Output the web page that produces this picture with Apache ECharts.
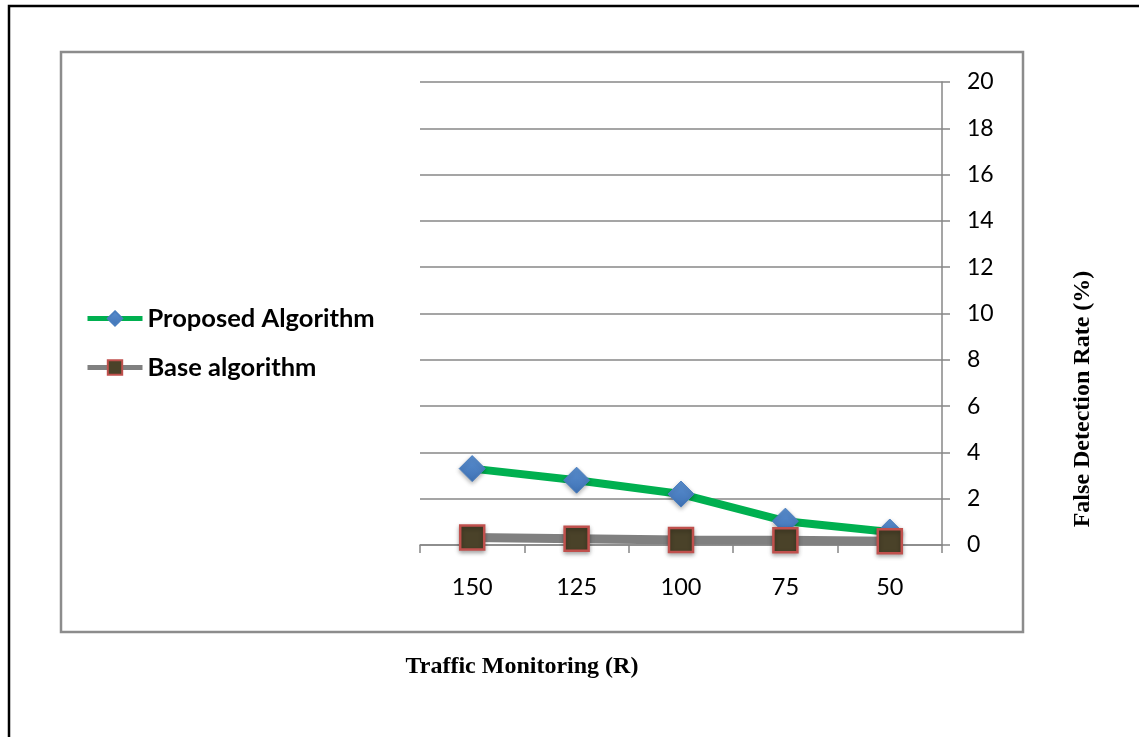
<!DOCTYPE html>
<html>
<head>
<meta charset="utf-8">
<script src="https://cdn.jsdelivr.net/npm/echarts@6/dist/echarts.min.js"></script>
<style>
html,body{margin:0;padding:0;background:#fff;}
#chart{width:1139px;height:737px;}
</style>
</head>
<body>
<div id="chart"></div>
<script>
const categories = ['150', '125', '100', '75', '50'];
const proposed = [3.3, 2.8, 2.2, 1.03, 0.56];
const base = [0.32, 0.27, 0.22, 0.2, 0.16];
const seriesNames = ['Proposed Algorithm', 'Base algorithm'];
const xTitle = 'Traffic Monitoring (R)';
const yTitle = 'False Detection Rate (%)';

const chart = echarts.init(document.getElementById('chart'), null, {renderer: 'canvas'});
const labelFont = 'Lato, "Open Sans", sans-serif';
const titleFont = '"Liberation Serif", "Times New Roman", serif';
const gray = '#878787';

chart.setOption({
  animation: false,
  backgroundColor: '#ffffff',
  graphic: [
    {type: 'rect', shape: {x: 9, y: 6, width: 1300, height: 900},
     style: {fill: 'none', stroke: '#000', lineWidth: 2.5}, silent: true, z: -10},
    {type: 'rect', shape: {x: 61, y: 52, width: 962, height: 580},
     style: {fill: 'none', stroke: '#8c8c8c', lineWidth: 2.5}, silent: true, z: -10},
    {type: 'text', x: 522, y: 667,
     style: {text: xTitle, fontFamily: titleFont, fontWeight: 'bold', fontSize: 24, fill: '#000',
             align: 'center', verticalAlign: 'middle'}},
    {type: 'text', x: 1083, y: 399, rotation: Math.PI / 2,
     style: {text: yTitle, fontFamily: titleFont, fontWeight: 'bold', fontSize: 24, fill: '#000',
             align: 'center', verticalAlign: 'middle'}}
  ],
  legend: {
    orient: 'vertical',
    left: 85,
    top: 304.5,
    padding: 0,
    itemWidth: 55,
    itemHeight: 18,
    itemGap: 21,
    lineStyle: {width: 5},
    textStyle: {fontFamily: labelFont, fontWeight: 'bold', fontSize: 25.5, color: '#000', lineHeight: 28},
    data: seriesNames
  },
  grid: {left: 420, right: 197, top: 82, bottom: 192},
  xAxis: {
    type: 'category',
    data: categories,
    boundaryGap: true,
    axisLine: {show: true, lineStyle: {color: gray, width: 1.5}},
    axisTick: {show: true, length: 8, lineStyle: {color: gray, width: 1.5}},
    axisLabel: {fontFamily: labelFont, fontSize: 23.5, color: '#000', margin: 30},
    splitLine: {show: false}
  },
  yAxis: {
    type: 'value',
    position: 'right',
    min: 0,
    max: 20,
    interval: 2,
    axisLine: {show: true, lineStyle: {color: gray, width: 1.5}},
    axisTick: {show: true, length: 8, lineStyle: {color: gray, width: 1.5}},
    axisLabel: {fontFamily: labelFont, fontSize: 23, color: '#000', margin: 25},
    splitLine: {show: true, lineStyle: {color: gray, width: 1.5}}
  },
  series: [
    {
      name: seriesNames[0],
      type: 'line',
      data: proposed,
      symbol: 'diamond',
      symbolSize: 26,
      lineStyle: {color: '#00b050', width: 8},
      itemStyle: {
        color: new echarts.graphic.LinearGradient(0, 0, 0, 1, [
          {offset: 0, color: '#5a8fd0'}, {offset: 1, color: '#3f72b5'}]),
        borderColor: '#4a7ebf', borderWidth: 1,
        shadowColor: 'rgba(0,0,0,0.3)', shadowBlur: 4, shadowOffsetY: 2
      },
      z: 3
    },
    {
      name: seriesNames[1],
      type: 'line',
      data: base,
      symbol: 'rect',
      symbolSize: 24,
      lineStyle: {color: '#808080', width: 9},
      itemStyle: {
        color: '#4a4229',
        borderColor: '#c0504d', borderWidth: 2.5,
        shadowColor: 'rgba(0,0,0,0.3)', shadowBlur: 4, shadowOffsetY: 2
      },
      z: 4
    }
  ]
});
</script>
</body>
</html>
